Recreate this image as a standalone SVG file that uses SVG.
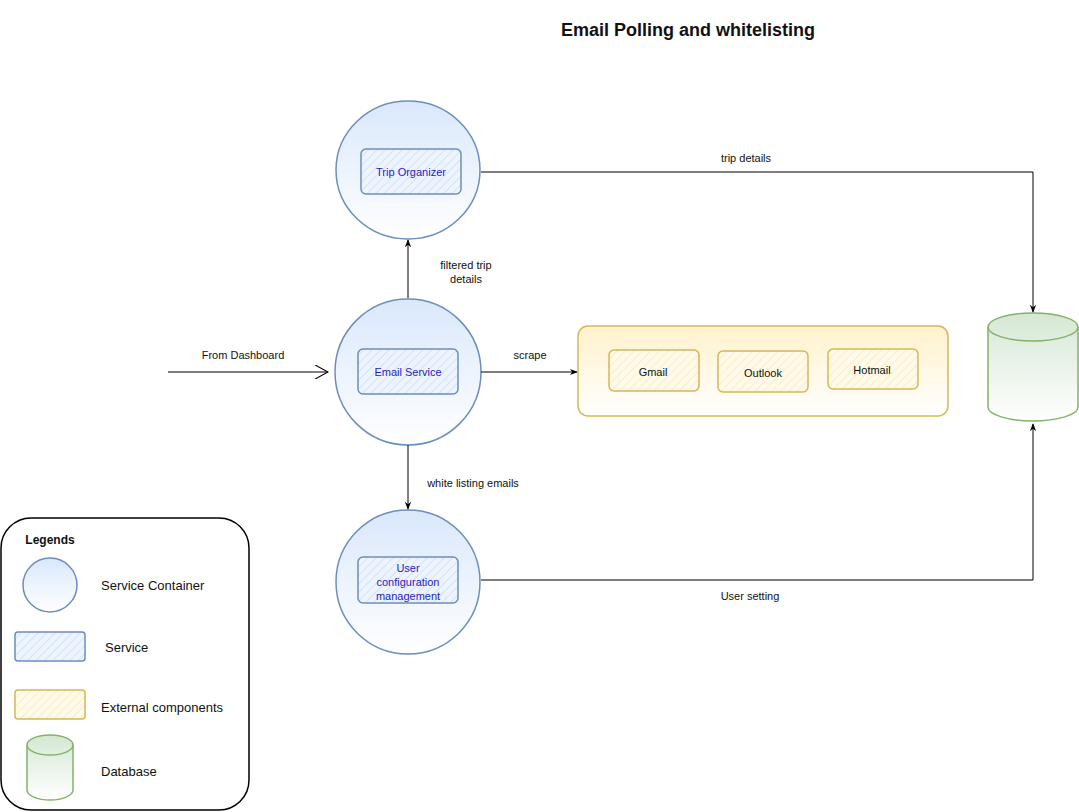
<svg xmlns="http://www.w3.org/2000/svg" width="1079" height="812" viewBox="0 0 1079 812">
<style>
text{font-family:"Comic Sans MS","Liberation Sans","DejaVu Sans",sans-serif;font-size:11px;fill:#111;text-anchor:middle}
.svc{fill:#1f1fb8}
.b{font-weight:bold}
.lg{font-size:13px;text-anchor:start}
.circ{fill:url(#gBlue);stroke:#6c8ebf;stroke-width:1.5}
.rect{fill:url(#hBlue);stroke:#6c8ebf;stroke-width:1.5}
.yrect{fill:url(#hYel);stroke:#d6b656;stroke-width:1.5}
.edge{fill:none;stroke:#000;stroke-width:1}
.db{fill:url(#gGreen);stroke:#82b366;stroke-width:1.5}
</style>
<defs>
<linearGradient id="gBlue" x1="0" y1="0" x2="0" y2="1"><stop offset="0" stop-color="#dae8fc"/><stop offset="1" stop-color="#ffffff"/></linearGradient>
<linearGradient id="gYel" x1="0" y1="0" x2="0" y2="1"><stop offset="0" stop-color="#fff2cc"/><stop offset="1" stop-color="#ffffff"/></linearGradient>
<linearGradient id="gGreen" x1="0" y1="0" x2="0" y2="1"><stop offset="0" stop-color="#d5e8d4"/><stop offset="1" stop-color="#ffffff"/></linearGradient>
<pattern id="hBlue" width="6" height="6" patternUnits="userSpaceOnUse" patternTransform="rotate(45)"><rect width="6" height="6" fill="#eef4fd"/><line x1="0" y1="0" x2="0" y2="6" stroke="#c9dcf7" stroke-width="1.5"/></pattern>
<pattern id="hYel" width="6" height="6" patternUnits="userSpaceOnUse" patternTransform="rotate(45)"><rect width="6" height="6" fill="#fffaea"/><line x1="0" y1="0" x2="0" y2="6" stroke="#fbe9b5" stroke-width="1.5"/></pattern>
<marker id="arr" viewBox="0 0 10 10" refX="9" refY="5" markerWidth="8" markerHeight="8" orient="auto-start-reverse"><path d="M0,1 L10,5 L0,9 L3,5 Z" fill="#000"/></marker>
<marker id="open" viewBox="0 0 12 12" refX="11" refY="6" markerWidth="14" markerHeight="14" markerUnits="userSpaceOnUse" orient="auto"><path d="M0,0 L11,6 L0,12" fill="none" stroke="#000" stroke-width="1"/></marker>
</defs>
<rect width="1079" height="812" fill="#fff"/>
<text x="688" y="36" class="b" style="font-size:18px">Email Polling and whitelisting</text>

<g id="trip-organizer">
<ellipse class="circ" cx="408" cy="170" rx="72" ry="69"/>
<rect class="rect" x="361" y="149" width="100" height="45" rx="5"/>
<text class="svc" x="411" y="176">Trip Organizer</text>
</g>

<g id="email-service">
<circle class="circ" cx="408" cy="372" r="73"/>
<rect class="rect" x="358" y="349" width="100" height="45" rx="5"/>
<text class="svc" x="408" y="376">Email Service</text>
</g>

<g id="user-config">
<circle class="circ" cx="408" cy="582" r="72"/>
<rect class="rect" x="358" y="557" width="100" height="46" rx="5"/>
<text class="svc" x="408" y="572">User</text>
<text class="svc" x="408" y="586">configuration</text>
<text class="svc" x="408" y="600">management</text>
</g>

<g id="external">
<rect x="578" y="326" width="370" height="90" rx="10" fill="url(#gYel)" stroke="#d6b656" stroke-width="1.5"/>
<g id="gmail"><rect class="yrect" x="609" y="350" width="90" height="41" rx="5"/><text x="653" y="376">Gmail</text></g>
<g id="outlook"><rect class="yrect" x="718" y="351" width="90" height="41" rx="5"/><text x="763" y="377">Outlook</text></g>
<g id="hotmail"><rect class="yrect" x="828" y="349" width="90" height="40" rx="5"/><text x="872" y="374">Hotmail</text></g>
</g>

<g id="database">
<path class="db" d="M988,327 A45,14 0 0 1 1078,327 L1078,407 A45,14 0 0 1 988,407 Z"/>
<path d="M988,327 A45,14 0 0 0 1078,327" fill="none" stroke="#82b366" stroke-width="1.5"/>
</g>

<g id="connectors">
<path class="edge" d="M408,298 L408,240" marker-end="url(#arr)"/>
<path class="edge" d="M408,445 L408,509" marker-end="url(#arr)"/>
<path class="edge" d="M168,372 L328,372" marker-end="url(#open)"/>
<path class="edge" d="M481,372 L577,372" marker-end="url(#arr)"/>
<path class="edge" d="M481,172 L1033,172 L1033,312" marker-end="url(#arr)"/>
<path class="edge" d="M481,580 L1033,580 L1033,424" marker-end="url(#arr)"/>
<text x="466" y="269">filtered trip</text>
<text x="466" y="283">details</text>
<text x="473" y="487">white listing emails</text>
<text x="243" y="359">From Dashboard</text>
<text x="530" y="359">scrape</text>
<text x="746" y="162">trip details</text>
<text x="750" y="600">User setting</text>
</g>

<g id="legend">
<rect x="1" y="518" width="248" height="292" rx="30" fill="#fff" stroke="#000" stroke-width="1.5"/>
<text x="50" y="544" class="b" style="font-size:12px">Legends</text>
<circle class="circ" cx="50" cy="585" r="27"/>
<text x="101" y="590" class="lg">Service Container</text>
<rect class="rect" x="15" y="632" width="70" height="29" rx="3"/>
<text x="105" y="652" class="lg">Service</text>
<rect class="yrect" x="15" y="690" width="70" height="29" rx="3"/>
<text x="101" y="712" class="lg">External components</text>
<path class="db" d="M27,745 A23,10 0 0 1 73,745 L73,790 A23,10 0 0 1 27,790 Z"/>
<path d="M27,745 A23,10 0 0 0 73,745" fill="none" stroke="#82b366" stroke-width="1.5"/>
<text x="101" y="776" class="lg">Database</text>
</g>
</svg>
